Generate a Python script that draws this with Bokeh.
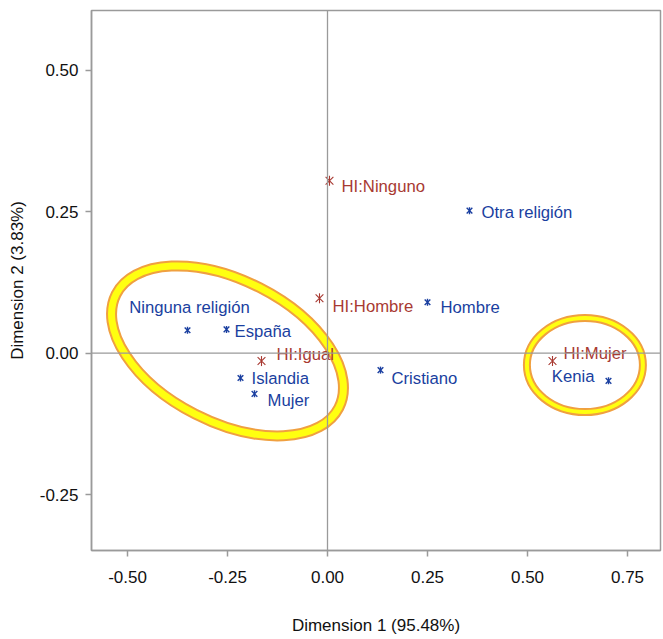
import math
from bokeh.plotting import figure
from bokeh.models import ColumnDataSource, FixedTicker, NumeralTickFormatter, Span, Range1d
from bokeh.core.properties import value
from bokeh.embed import file_html
from bokeh.resources import INLINE

# Row points (blue)
row_labels = ["Ninguna religión", "España", "Islandia", "Mujer", "Cristiano", "Hombre", "Otra religión", "Kenia"]
row_x = [-0.35, -0.2525, -0.2175, -0.1825, 0.1325, 0.25, 0.355, 0.7025]
row_y = [0.0405, 0.042, -0.044, -0.072, -0.030, 0.090, 0.252, -0.049]

# Column points (red)
col_labels = ["HI:Ninguno", "HI:Hombre", "HI:Igual", "HI:Mujer"]
col_x = [0.005, -0.02, -0.165, 0.5625]
col_y = [0.305, 0.097, -0.014, -0.014]

# Label placement (screen px offsets) and alignment
row_dx = [2, 8, 11, 13, 11, 13, 12, -14]
row_dy = [-23, 2, 0, 7, 8, 5, 2, -4]
row_align = ["center", "left", "left", "left", "left", "left", "left", "right"]
col_dx = [12, 13, 15, 11]
col_dy = [6, 8, -7, -8]

# Highlight ellipses (centre in data units, size in screen px)
ell_x = [-0.25, 0.6435]
ell_y = [0.004, -0.021]
ell_w = [250, 116]
ell_h = [142, 94]
ell_angle_deg = [-27, 0]
ell_outer = [11, 8]
ell_inner = [7, 4]

x_ticks = [-0.5, -0.25, 0.0, 0.25, 0.5, 0.75]
y_ticks = [-0.25, 0.0, 0.25, 0.5]

FONT = "Liberation Sans"
BLUE = "#1a3fa0"
RED = "#a83a32"
GRAY = "#9a9a9a"

p = figure(width=662, height=637, output_backend="svg", toolbar_location=None,
           x_range=Range1d(-0.59, 0.8325), y_range=Range1d(-0.349, 0.606),
           min_border_left=91, min_border_right=2, min_border_top=10, min_border_bottom=85)
p.grid.visible = False
p.outline_line_color = GRAY
p.outline_line_width = 1.5
p.background_fill_color = "white"
p.border_fill_color = "white"

for ax in (p.xaxis[0], p.yaxis[0]):
    ax.axis_line_color = GRAY
    ax.axis_line_width = 1.5
    ax.major_tick_line_color = GRAY
    ax.major_tick_line_width = 1.5
    ax.major_tick_out = 6
    ax.major_tick_in = 0
    ax.minor_tick_line_color = None
    ax.major_label_text_font = FONT
    ax.major_label_text_font_size = "17px"
    ax.major_label_text_color = "#111111"
    ax.axis_label_text_font = FONT
    ax.axis_label_text_font_size = "17px"
    ax.axis_label_text_font_style = "normal"
    ax.axis_label_text_color = "#111111"
    ax.formatter = NumeralTickFormatter(format="0.00")

p.xaxis.ticker = FixedTicker(ticks=x_ticks)
p.yaxis.ticker = FixedTicker(ticks=y_ticks)
p.xaxis.axis_label = "Dimension 1 (95.48%)"
p.yaxis.axis_label = "Dimension 2 (3.83%)"
p.xaxis.major_label_standoff = 14
p.xaxis.axis_label_standoff = 30
p.yaxis.major_label_standoff = 7
p.yaxis.axis_label_standoff = 10

p.add_layout(Span(location=0, dimension="width", line_color=GRAY, line_width=1.3))
p.add_layout(Span(location=0, dimension="height", line_color=GRAY, line_width=1.3))

ell_src = ColumnDataSource(dict(x=ell_x, y=ell_y, w=ell_w, h=ell_h,
                                a=[math.radians(d) for d in ell_angle_deg],
                                lo=ell_outer, li=ell_inner))
p.ellipse(x="x", y="y", width="w", height="h", angle="a", source=ell_src,
          width_units="screen", height_units="screen",
          fill_color=None, line_color="#f0a040", line_width="lo")
p.ellipse(x="x", y="y", width="w", height="h", angle="a", source=ell_src,
          width_units="screen", height_units="screen",
          fill_color=None, line_color="#ffff10", line_width="li")

row_src = ColumnDataSource(dict(x=row_x, y=row_y, t=row_labels, dx=row_dx, dy=row_dy, al=row_align))
col_src = ColumnDataSource(dict(x=col_x, y=col_y, t=col_labels, dx=col_dx, dy=col_dy))

# six-armed asterisks: diagonal cross + vertical stroke
p.scatter(x="x", y="y", source=row_src, marker="x", size=8, line_color=BLUE, line_width=1.4)
p.scatter(x="x", y="y", source=row_src, marker="dash", angle=math.pi / 2, size=7,
          line_color=BLUE, line_width=1.4)
p.scatter(x="x", y="y", source=col_src, marker="x", size=11, line_color=RED, line_width=1.1)
p.scatter(x="x", y="y", source=col_src, marker="dash", angle=math.pi / 2, size=10,
          line_color=RED, line_width=1.1)

p.text(x="x", y="y", text="t", source=row_src, x_offset="dx", y_offset="dy",
       text_align="al", text_baseline="middle", text_color=BLUE,
       text_font=value(FONT), text_font_size="16.7px")
p.text(x="x", y="y", text="t", source=col_src, x_offset="dx", y_offset="dy",
       text_align="left", text_baseline="middle", text_color=RED,
       text_font=value(FONT), text_font_size="16.7px")

open("out.html", "w").write(file_html(p, INLINE))
